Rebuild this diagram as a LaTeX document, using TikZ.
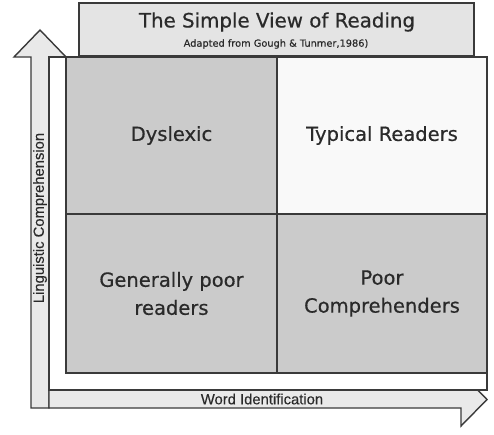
\documentclass[tikz,border=0pt]{standalone}
\usepackage{fontspec}
\setmainfont{DejaVu Sans}
\newfontfamily\heavyf[FakeBold=0.5]{DejaVu Sans}
\newfontfamily\arialf[FakeBold=0.3]{Liberation Sans}
\definecolor{linec}{HTML}{3A3A3A}
\definecolor{textc}{HTML}{2A2A2A}
\definecolor{arrowfill}{HTML}{E9E9E9}
\definecolor{titlefill}{HTML}{E4E4E4}
\definecolor{darkcell}{HTML}{CBCBCB}
\definecolor{lightcell}{HTML}{F9F9F9}
\begin{document}
\begin{tikzpicture}[x=1pt,y=-1pt,
  outline/.style={draw=linec,line width=1.4pt,line join=miter},
  cell/.style={outline,anchor=north west,inner sep=0pt,outer sep=0pt,align=center,
     text=textc,font=\heavyf\fontsize{19.5}{28}\selectfont},
  axislabel/.style={inner sep=0pt,text=textc,font=\arialf\fontsize{14.8}{15}\selectfont}]
\useasboundingbox[fill=white] (0,0) rectangle (494,434);
% axis arrows
\draw[outline,fill=arrowfill] (31,408) -- (31,57) -- (14,57) -- (40,30) -- (66,57) -- (49,57) -- (49,408) -- cycle;
\draw[outline,fill=arrowfill] (49,390) -- (461,390) -- (461,373) -- (487,399.5) -- (461,426) -- (461,408) -- (49,408) -- cycle;
% frame
\draw[outline,fill=white] (49,57) rectangle (487,390);
% title box
\node[outline,fill=titlefill,anchor=north west,minimum width=395pt,minimum height=53pt,inner sep=0pt,outer sep=0pt] (titlebox) at (79,3) {};
\node[text=textc,font=\heavyf\fontsize{19.8}{22}\selectfont,inner sep=0pt] (title) at (277,22) {The Simple View of Reading};
\node[text=textc,font=\heavyf\fontsize{9.8}{10}\selectfont,inner sep=0pt] (subtitle) at (276,44) {Adapted from Gough \& Tunmer,1986)};
% cells
\node[cell,fill=darkcell,minimum width=211pt,minimum height=157pt] (dys) at (66,57) {Dyslexic};
\node[cell,fill=lightcell,minimum width=210pt,minimum height=157pt] (typ) at (277,57) {Typical Readers};
\node[cell,fill=darkcell,minimum width=211pt,minimum height=159pt] (gen) at (66,214) {Generally poor\\readers};
\node[cell,fill=darkcell,minimum width=210pt,minimum height=159pt] (comp) at (277,214) {Poor\\Comprehenders};
% axis labels
\node[axislabel,rotate=90] (ling) at (40,218) {Linguistic Comprehension};
\node[axislabel] (word) at (262,399) {Word Identification};
\end{tikzpicture}
\end{document}
